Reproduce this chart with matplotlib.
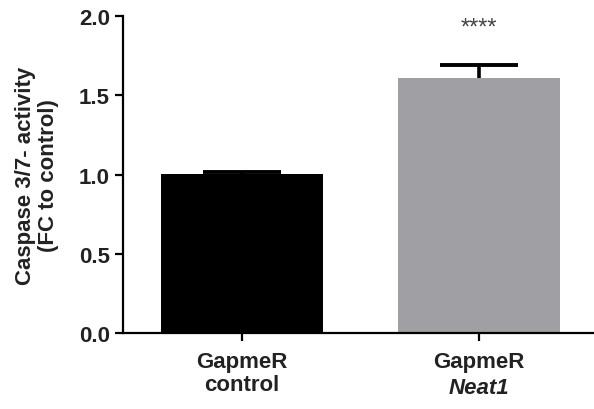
import matplotlib.pyplot as plt

groups = ['control', 'Neat1']
means = [1.003, 1.61]
errs = [0.015, 0.08]
colors = ['#000000', '#a09fa4']

plt.rcParams['font.family'] = ['Liberation Sans', 'DejaVu Sans']

fig = plt.figure(figsize=(5.94, 4.10), dpi=100)
ax = fig.add_axes([0.207, 0.185, 0.793, 0.7735])

x = list(range(len(groups)))
ax.bar(x, means, width=0.684, color=colors, zorder=2)
# upper-only error bars with a single cap
tops = [m + e for m, e in zip(means, errs)]
ax.vlines(x, means, tops, color='black', linewidth=2.6, zorder=3)
ax.hlines(tops, [i - 0.165 for i in x], [i + 0.165 for i in x],
          color='black', linewidth=2.8, zorder=3)

ax.text(1, 1.93, '****', ha='center', va='center', fontsize=17, color='#444444')

ax.set_xlim(-0.502, 1.487)
ax.set_ylim(0, 2.0)
ax.set_yticks([0.0, 0.5, 1.0, 1.5, 2.0])
ax.set_yticklabels(['0.0', '0.5', '1.0', '1.5', '2.0'], fontsize=16, fontweight='bold')
ax.set_xticks(x)
ax.set_xticklabels([])
ax.text(0, -0.11, 'GapmeR\ncontrol', ha='center', va='top', fontsize=16,
        fontweight='bold', color='#222222', linespacing=1.15)
ax.text(1, -0.11, 'GapmeR', ha='center', va='top', fontsize=16,
        fontweight='bold', color='#222222')
ax.text(1, -0.275, 'Neat1', ha='center', va='top', fontsize=16,
        fontweight='bold', style='italic', color='#222222')

ax.set_ylabel('Caspase 3/7- activity\n(FC to control)', fontsize=16,
              fontweight='bold', color='#222222', linespacing=1.1)
ax.yaxis.set_label_coords(-0.136, 0.5)

for s in ['top', 'right']:
    ax.spines[s].set_visible(False)
for s in ['left', 'bottom']:
    ax.spines[s].set_linewidth(1.6)
ax.tick_params(axis='both', width=1.6, length=6, colors='black', labelcolor='#222222')

fig.savefig('out.png', dpi=100)
